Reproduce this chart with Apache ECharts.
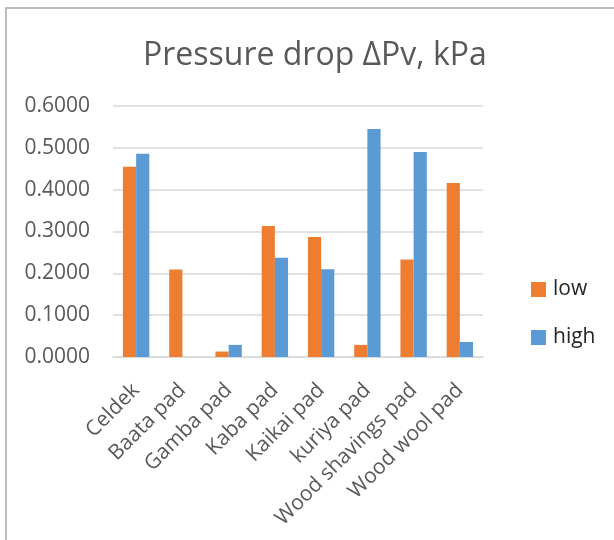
<!DOCTYPE html>
<html>
<head>
<meta charset="utf-8">
<script src="https://cdn.jsdelivr.net/npm/echarts@6/dist/echarts.min.js"></script>
<style>
  html, body { margin: 0; padding: 0; background: #fff; }
  #chart { width: 614px; height: 540px; }
</style>
</head>
<body>
<div id="chart"></div>
<script>
const categories = ["Celdek", "Baata pad", "Gamba pad", "Kaba pad", "Kaikai pad", "kuriya pad", "Wood shavings pad", "Wood wool pad"];
const lowValues = [0.455, 0.209, 0.013, 0.313, 0.287, 0.029, 0.233, 0.416];
const highValues = [0.486, 0, 0.029, 0.237, 0.210, 0.545, 0.490, 0.036];
const yTicks = [0, 0.1, 0.2, 0.3, 0.4, 0.5, 0.6];

const textColor = "#595959";
const fontFamily = "'Open Sans', sans-serif";

const chart = echarts.init(document.getElementById("chart"));

const option = {
  animation: false,
  graphic: [
    {
      type: "rect",
      shape: { x: 6, y: 8, width: 700, height: 700 },
      style: { fill: "none", stroke: "#a6a6a6", lineWidth: 1.5 },
    },
  ],
  title: {
    text: "Pressure drop ΔPv, kPa",
    left: 138,
    top: 35,
    textStyle: {
      color: textColor,
      fontFamily: fontFamily,
      fontSize: 32,
      fontWeight: "normal",
    },
  },
  legend: {
    orient: "vertical",
    left: 526,
    top: 274,
    itemWidth: 15,
    itemHeight: 15,
    itemGap: 27,
    icon: "rect",
    data: ["low", "high"],
    textStyle: {
      color: "#262626",
      fontFamily: fontFamily,
      fontSize: 21,
      padding: [0, 0, 0, 2],
    },
  },
  grid: {
    left: 113,
    right: 131,
    top: 106,
    bottom: 183,
  },
  xAxis: {
    type: "category",
    data: categories,
    axisLine: { lineStyle: { color: "#d9d9d9", width: 1.5 } },
    axisTick: { show: false },
    axisLabel: {
      rotate: 45,
      interval: 0,
      margin: 30,
      color: textColor,
      fontFamily: fontFamily,
      fontSize: 21,
    },
  },
  yAxis: {
    type: "value",
    min: yTicks[0],
    max: yTicks[yTicks.length - 1],
    interval: 0.1,
    axisLine: { show: false },
    axisTick: { show: false },
    splitLine: { lineStyle: { color: "#d9d9d9", width: 1.5 } },
    axisLabel: {
      margin: 23,
      color: textColor,
      fontFamily: fontFamily,
      fontSize: 21,
      formatter: (v) => v.toFixed(4),
    },
  },
  series: [
    {
      name: "low",
      type: "bar",
      data: lowValues,
      barGap: "0%",
      barCategoryGap: "43%",
      itemStyle: { color: "#ED7D31" },
    },
    {
      name: "high",
      type: "bar",
      data: highValues,
      barGap: "0%",
      barCategoryGap: "43%",
      itemStyle: { color: "#5B9BD5" },
    },
  ],
};

chart.setOption(option);
</script>
</body>
</html>
